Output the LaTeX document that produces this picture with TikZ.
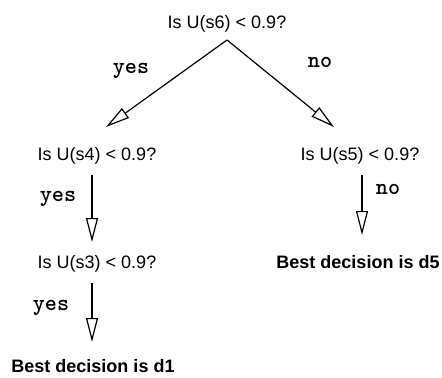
\documentclass[tikz,border=0pt]{standalone}
\usepackage{fontspec}
\setmainfont{Liberation Sans}
\usetikzlibrary{arrows.meta,calc}

\begin{document}
\begin{tikzpicture}[x=0.5pt, y=-0.5pt,
            ask/.style={anchor=base, inner sep=0pt, font=\fontsize{9}{11}\selectfont},
            dec/.style={anchor=base, inner sep=0pt, font=\bfseries\fontsize{9}{11}\selectfont},
            ans/.style={anchor=base, inner sep=0pt, font=\ttfamily\bfseries\fontsize{11.5}{13}\selectfont},
            edge/.style={-{Triangle[open, length=12pt, width=6pt]}, line width=0.6pt}]
          \useasboundingbox (0,0) rectangle (442,377);
          % questions and decisions
          \node[ask] (q6) at (227,28)  {Is U(s6) < 0.9?};
          \node[ask] (q4) at (97,160)  {Is U(s4) < 0.9?};
          \node[ask] (q5) at (360,160) {Is U(s5) < 0.9?};
          \node[ask] (q3) at (97,268)  {Is U(s3) < 0.9?};
          \node[dec] (d5) at (358,268) {Best decision is d5};
          \node[dec] (d1) at (93,372)  {Best decision is d1};
          % answers
          \node[ans] (a64) at (131,73)  {yes};
          \node[ans] (a65) at (320,67)  {no};
          \node[ans] (a43) at (58,201)  {yes};
          \node[ans] (a55) at (388,194) {no};
          \node[ans] (a31) at (51,310)  {yes};
          % branches
          \draw[edge] ($(q6.base)+(0,12)$) -- ($(q4.base)+(9,-33)$);
          \draw[edge] ($(q6.base)+(0,12)$) -- ($(q5.base)+(-26,-33)$);
          \draw[edge] ($(q4.base)+(-5,15)$) -- ($(q3.base)+(-5,-26)$);
          \draw[edge] ($(q5.base)+(2,15)$) -- ($(d5.base)+(4,-33)$);
          \draw[edge] ($(q3.base)+(-5,15)$) -- ($(d1.base)+(-1,-30)$);
        \end{tikzpicture}
\end{document}
